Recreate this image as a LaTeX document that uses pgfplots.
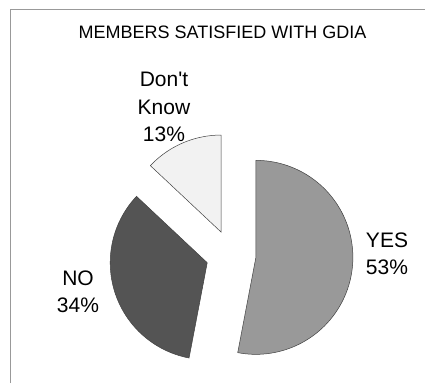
\documentclass[border=0pt]{standalone}
\usepackage{pgfplots}
\usepackage{pgfplotstable}
\pgfplotsset{compat=1.18}
\usepackage{fontspec}
\setmainfont{Liberation Sans}[Ligatures=TeXOff]
\pgfplotstableread{
label share
YES 53
NO 34
DK 13
}\piedata
\begin{document}
\begin{tikzpicture}
\pgfplotstablegetelem{0}{share}\of\piedata \let\pYes\pgfplotsretval
\pgfplotstablegetelem{1}{share}\of\piedata \let\pNo\pgfplotsretval
\pgfplotstablegetelem{2}{share}\of\piedata \let\pDk\pgfplotsretval
\pgfmathsetmacro{\aA}{0}
\pgfmathsetmacro{\aB}{\pYes*3.6}
\pgfmathsetmacro{\aC}{(\pYes+\pNo)*3.6}
\pgfmathsetmacro{\aD}{(\pYes+\pNo+\pDk)*3.6}
\def\R{97}
\def\CX{231}
\def\CY{128}
\def\EX{25}
\pgfmathsetmacro{\mA}{(\aA+\aB)/2}
\pgfmathsetmacro{\mB}{(\aB+\aC)/2}
\pgfmathsetmacro{\mC}{(\aC+\aD)/2}
\pgfmathsetmacro{\xA}{\CX+\EX*sin(\mA)}\pgfmathsetmacro{\yA}{\CY+\EX*cos(\mA)}
\pgfmathsetmacro{\xB}{\CX+\EX*sin(\mB)}\pgfmathsetmacro{\yB}{\CY+\EX*cos(\mB)}
\pgfmathsetmacro{\xC}{\CX+\EX*sin(\mC)}\pgfmathsetmacro{\yC}{\CY+\EX*cos(\mC)}
\begin{axis}[
  scale only axis, width=425pt, height=383pt,
  xmin=0, xmax=425, ymin=0, ymax=383,
  hide axis, clip=false,
]
\draw[color=black!40, line width=0.6pt] (axis cs:10,0) -- (axis cs:10,374) -- (axis cs:425,374);
\addplot[draw=black!75, line width=0.5pt, fill=black!40, domain=\aA:\aB, samples=90, variable=\t]
  ({\xA+\R*sin(\t)}, {\yA+\R*cos(\t)}) -- (axis cs:\xA,\yA) -- cycle;
\addplot[draw=black!75, line width=0.5pt, fill=black!67, domain=\aB:\aC, samples=70, variable=\t]
  ({\xB+\R*sin(\t)}, {\yB+\R*cos(\t)}) -- (axis cs:\xB,\yB) -- cycle;
\addplot[draw=black!75, line width=0.5pt, fill=black!5, domain=\aC:\aD, samples=40, variable=\t]
  ({\xC+\R*sin(\t)}, {\yC+\R*cos(\t)}) -- (axis cs:\xC,\yC) -- cycle;
\node[align=center, font=\fontsize{18}{22}\selectfont] at (axis cs:222.5,351) {MEMBERS SATISFIED WITH GDIA};
\node[align=center, font=\fontsize{21}{27.5}\selectfont] at (axis cs:387,129) {YES\\53\%};
\node[align=center, font=\fontsize{21}{27.5}\selectfont] at (axis cs:78,91) {NO\\34\%};
\node[align=center, font=\fontsize{21}{27.5}\selectfont] at (axis cs:164,276) {Don't\\Know\\13\%};
\end{axis}
\pgfresetboundingbox
\path[use as bounding box] (current axis.south west) rectangle (current axis.north east);
\end{tikzpicture}
\end{document}
